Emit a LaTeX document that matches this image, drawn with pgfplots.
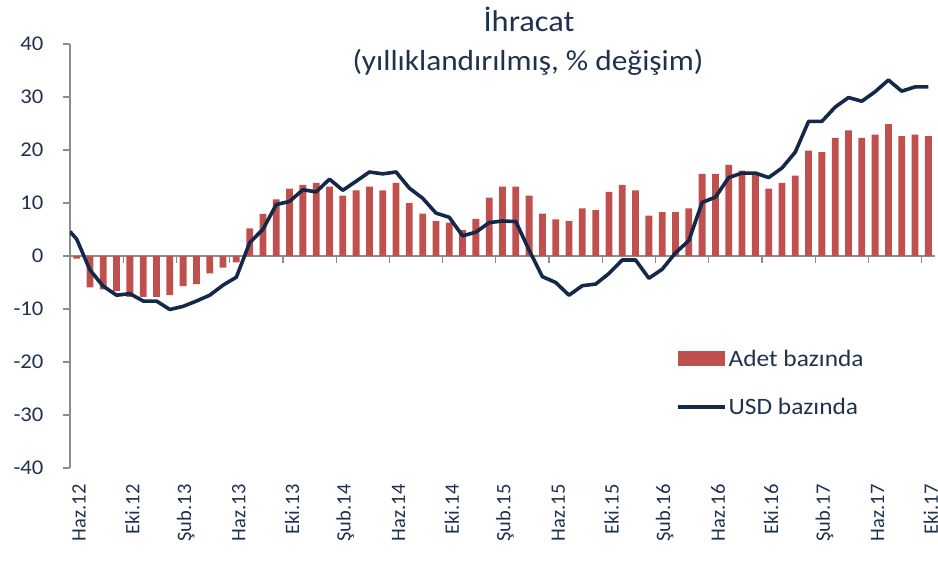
\documentclass[border=0pt]{standalone}
\usepackage{pgfplots}
\usepackage{pgfplotstable}
\pgfplotsset{compat=1.18}
\usepackage{fontspec}
\setmainfont{Carlito}[FakeStretch=1.08]
\newfontfamily\rotfont{Carlito}
\newcommand\xlabfont{\rotfont\fontsize{20.5bp}{24bp}\selectfont}
\newcommand\ylabfont{\fontsize{21bp}{25bp}\selectfont}
\newcommand\legfont{\fontsize{23.5bp}{28bp}\selectfont}
\definecolor{barred}{HTML}{C0504D}
\definecolor{navyline}{HTML}{14284A}
\definecolor{txt}{HTML}{1F314F}
\definecolor{axgray}{HTML}{8C8C8C}

\pgfplotstableread{
x y
0 -0.5
1 -5.9
2 -6.3
3 -6.6
4 -7.7
5 -7.7
6 -7.7
7 -7.4
8 -5.7
9 -5.3
10 -3.3
11 -2.2
12 -1.2
13 5.2
14 7.95
15 10.7
16 12.7
17 13.4
18 13.8
19 13.1
20 11.4
21 12.4
22 13.1
23 12.4
24 13.8
25 10.0
26 8.0
27 6.6
28 6.3
29 4.9
30 7.0
31 11.0
32 13.1
33 13.1
34 11.4
35 8.0
36 6.9
37 6.6
38 9.0
39 8.65
40 12.1
41 13.4
42 12.4
43 7.6
44 8.3
45 8.3
46 9.0
47 15.5
48 15.5
49 17.2
50 16.1
51 15.5
52 12.7
53 13.8
54 15.15
55 19.9
56 19.6
57 22.3
58 23.7
59 22.3
60 22.9
61 24.9
62 22.6
63 22.9
64 22.6
}\adet

\pgfplotstableread{
x y
-0.5 4.6
0 3.2
1 -2.65
2 -5.7
3 -7.4
4 -7.1
5 -8.5
6 -8.5
7 -10.1
8 -9.5
9 -8.5
10 -7.4
11 -5.5
12 -4.0
13 2.5
14 5.05
15 9.7
16 10.3
17 12.5
18 12.1
19 14.5
20 12.4
21 14.1
22 15.85
23 15.5
24 15.85
25 12.8
26 10.9
27 8.1
28 7.3
29 3.8
30 4.5
31 6.3
32 6.6
33 6.5
34 1.1
35 -3.9
36 -5.0
37 -7.4
38 -5.6
39 -5.3
40 -3.3
41 -0.75
42 -0.75
43 -4.2
44 -2.5
45 0.6
46 2.9
47 10.1
48 11.1
49 14.8
50 15.65
51 15.65
52 14.8
53 16.6
54 19.6
55 25.4
56 25.4
57 28.1
58 29.9
59 29.2
60 31.0
61 33.2
62 31.1
63 31.9
64 31.9
}\usd

\begin{document}
\begin{tikzpicture}
% zero line with its tick marks
\begin{axis}[at={(0,212bp)}, anchor=south west, scale only axis,
  width=865bp, height=212bp, xmin=-0.5, xmax=64.5, ymin=0, ymax=40,
  axis y line=none, axis x line*=bottom,
  x axis line style={-, draw=axgray, line width=1.2bp},
  xtick={3.5,7.5,...,63.5}, xticklabels={},
  tick align=outside, major tick length=7bp,
  xtick style={draw=axgray, line width=1.2bp}]
\addplot[draw=none] coordinates {(0,10)};
\end{axis}

\begin{axis}[name=ax, at={(0,0)}, anchor=south west, scale only axis,
  width=865bp, height=424bp, xmin=-0.5, xmax=64.5, ymin=-40, ymax=40,
  axis y line*=left, axis x line*=bottom,
  x axis line style={draw=none},
  y axis line style={-, draw=axgray, line width=1.2bp},
  ytick={-40,-30,...,40},
  ytick style={draw=axgray, line width=1.2bp},
  tick align=outside, major tick length=7bp,
  xtick={0,4,...,64},
  xticklabels={Haz.12,Eki.12,Şub.13,Haz.13,Eki.13,Şub.14,Haz.14,Eki.14,Şub.15,Haz.15,Eki.15,Şub.16,Haz.16,Eki.16,Şub.17,Haz.17,Eki.17},
  xtick style={draw=none},
  x tick label style={xshift=2.5bp, yshift=-6bp, rotate=90, anchor=east, text=txt, font=\xlabfont},
  y tick label style={font=\ylabfont, text=txt, xshift=-16bp},
  /pgf/number format/assume math mode=true,
  legend style={at={(0.697,0.288)}, anchor=north west, draw=none, fill=none,
    font=\legfont, text=txt, row sep=26bp,
    /tikz/every even column/.append style={column sep=6bp}},
  legend cell align=left]
\addplot[ybar, bar width=6.8bp, fill=barred, draw=none,
  legend image code/.code={\fill[barred] (0bp,-7.5bp) rectangle (47bp,7.5bp);}]
  table[x=x,y=y]{\adet};
\addlegendentry{Adet bazında}
\addplot[navyline, line width=3.6bp, line join=round, mark=none,
  legend image code/.code={\draw[navyline, line width=3.6bp] (0bp,0bp) -- (47bp,0bp);}]
  table[x=x,y=y]{\usd};
\addlegendentry{USD bazında}
\end{axis}

\node[anchor=base, font=\fontsize{30bp}{36bp}\selectfont, text=txt] at ([shift={(459bp,12bp)}]ax.north west) {İhracat};
\node[anchor=base, font=\fontsize{29bp}{35bp}\selectfont, text=txt] at ([shift={(458bp,-27bp)}]ax.north west) {(yıllıklandırılmış, \% değişim)};

\pgfresetboundingbox
\path[use as bounding box] ([shift={(-70bp,-95bp)}]ax.south west) rectangle ([shift={(3bp,44bp)}]ax.north east);
\end{tikzpicture}
\end{document}
